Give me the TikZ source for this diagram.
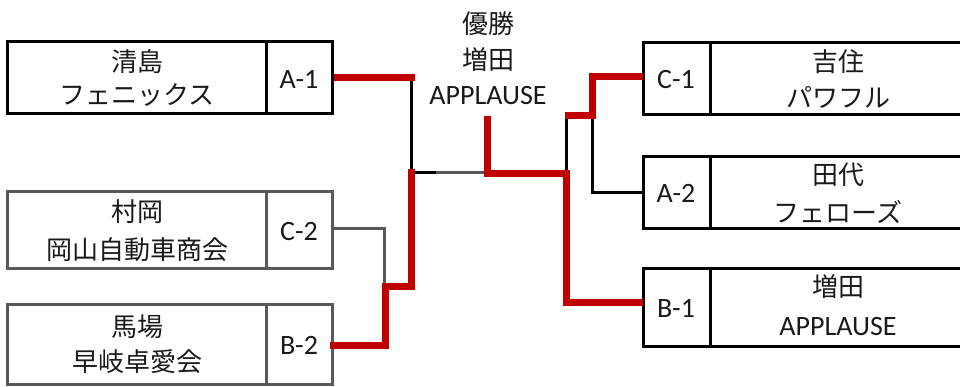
\documentclass[tikz,border=0pt]{standalone}
\usepackage{fontspec}
\setmainfont{Carlito}
\newfontfamily\cjk{Noto Sans CJK JP}
\definecolor{winred}{HTML}{C00000}
\definecolor{losegray}{HTML}{595959}
\definecolor{txt}{HTML}{1A1A1A}
\begin{document}
\begin{tikzpicture}[x=1pt,y=-1pt,
  bx/.style={draw=black, line width=3pt, inner sep=0pt},
  gbx/.style={bx, draw=losegray},
  lat/.style={inner sep=0pt, text=txt, font=\fontsize{28}{30}\selectfont},
  jp/.style={inner sep=0pt, text=txt, font=\cjk\fontsize{26}{30}\selectfont},
  winline/.style={draw=winred, line width=7pt},
  blkline/.style={draw=black, line width=3pt},
  grayline/.style={draw=losegray, line width=3pt}]
\useasboundingbox (0,0) rectangle (960,387);
% left boxes
\node[bx, minimum width=259pt, minimum height=72pt] (n1) at (136.5,78) {};
\node[bx, minimum width=66pt, minimum height=72pt] (a1) at (299,78) {};
\node[gbx, minimum width=259pt, minimum height=76pt] (n2) at (136.5,230) {};
\node[gbx, minimum width=66pt, minimum height=76pt] (c2) at (299,230) {};
\node[gbx, minimum width=259pt, minimum height=80pt] (n3) at (136.5,344) {};
\node[gbx, minimum width=66pt, minimum height=80pt] (b2) at (299,344) {};
% right boxes
\node[bx, minimum width=67pt, minimum height=72pt] (c1) at (676.5,79) {};
\node[bx, minimum width=265pt, minimum height=72pt] (n4) at (842.5,79) {};
\node[bx, minimum width=67pt, minimum height=72pt] (a2) at (676.5,193) {};
\node[bx, minimum width=265pt, minimum height=72pt] (n5) at (842.5,193) {};
\node[bx, minimum width=67pt, minimum height=78pt] (b1) at (676.5,307) {};
\node[bx, minimum width=265pt, minimum height=78pt] (n6) at (842.5,307) {};
% texts
\node[jp] (t11) at (137,62) {清島};
\node[jp] (t12) at (137,95) {フェニックス};
\node[jp] (t21) at (137,212) {村岡};
\node[jp] (t22) at (137,250) {岡山自動車商会};
\node[jp] (t31) at (137,327) {馬場};
\node[jp] (t32) at (137,362) {早岐卓愛会};
\node[jp] (w1) at (488,24) {優勝};
\node[jp] (w2) at (488,60) {増田};
\node[lat] (w3) at (488,96) {APPLAUSE};
\node[jp] (t41) at (838,62) {吉住};
\node[jp] (t42) at (838,97) {パワフル};
\node[jp] (t51) at (838,175) {田代};
\node[jp] (t52) at (838,212) {フェローズ};
\node[jp] (t61) at (838,287) {増田};
\node[lat] (t62) at (838,327) {APPLAUSE};
\node[lat] (la1) at (299,79) {A-1};
\node[lat] (lc2) at (299,232) {C-2};
\node[lat] (lb2) at (299,345) {B-2};
\node[lat] (lc1) at (676,80) {C-1};
\node[lat] (la2) at (676,193) {A-2};
\node[lat] (lb1) at (676,308) {B-1};
% junction coordinates
\coordinate (ja) at (411,78);
\coordinate (jm) at (411,173);
\coordinate (jg) at (436,173);
\coordinate (jt) at (487,116);
\coordinate (jr) at (566,174);
\coordinate (jc) at (566,116);
\coordinate (jc1) at (643,77);
\coordinate (jb1) at (643,302);
\coordinate (ja2) at (643,193);
% left connectors
\draw[blkline] (ja) -- (jm) -- (jg);
\draw[grayline] (jg) -- (487,173);
\draw[grayline] (c2.east |- 0,229) -- (384,229) -- (384,288);
\draw[winline, line cap=rect] (b2.east |- 0,345) -- (385,345) -- (385,286) -- (411,286) -- (jm);
\draw[winline] (a1.east |- ja) -- ([xshift=3.5pt]ja);
% right connectors
\draw[blkline] (jr) -- (jc);
\draw[blkline] (592,116) -- (592,193) -- (ja2);
\draw[winline] (jt) -- (487,174) -- (jr) -- (566,302) -- (jb1);
\draw[winline] ([xshift=-1.5pt]jc) -- (592,116) -- (592,77) -- (jc1);
\end{tikzpicture}
\end{document}
